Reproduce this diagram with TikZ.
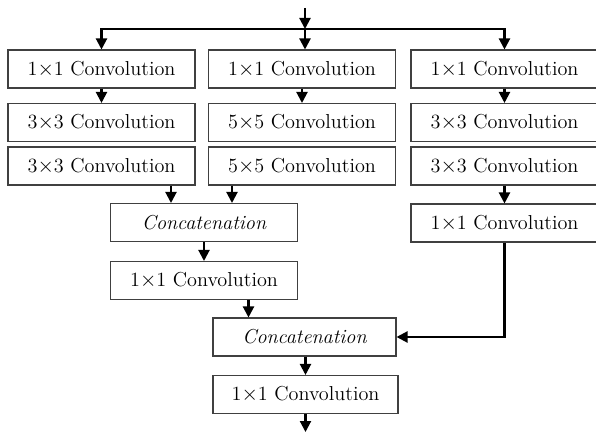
\documentclass[tikz,border=0pt]{standalone}
\usepackage{amsmath}
\usepackage{tikz}
\usetikzlibrary{arrows.meta,calc,positioning}

\begin{document}
\begin{tikzpicture}[
      x=0.02cm, y=-0.02cm,
      capa/.style={rectangle, draw=black!75, line width=0.6pt, align=center,
        minimum width=187*0.02cm, minimum height=38*0.02cm, inner sep=0pt,
        font=\fontsize{11.5}{13}\selectfont},
      union/.style={capa, font=\fontsize{11.5}{13}\selectfont\itshape},
      flecha/.style={-{Triangle[length=2.2mm,width=2.2mm]}, draw=black, line width=1.2pt},
      linea/.style={draw=black, line width=1.2pt},
    ]
    \useasboundingbox (0,0) rectangle (596,432);

    % tres ramas
    \node[capa] (a1) at (101.5,69)  {1$\times$1 Convolution};
    \node[capa] (a2) at (101.5,122.5) {3$\times$3 Convolution};
    \node[capa] (a3) at (101.5,166) {3$\times$3 Convolution};
    \node[capa] (b1) at (302,69)    {1$\times$1 Convolution};
    \node[capa] (b2) at (302,122.5) {5$\times$5 Convolution};
    \node[capa] (b3) at (302,166)   {5$\times$5 Convolution};
    \node[capa] (c1) at (504.5,69)  {1$\times$1 Convolution};
    \node[capa] (c2) at (504.5,122.5) {3$\times$3 Convolution};
    \node[capa] (c3) at (504.5,166) {3$\times$3 Convolution};
    \node[capa] (c4) at (504.5,223) {1$\times$1 Convolution};

    % uniones
    \node[union] (cat1)  at (204,222.5)   {Concatenation};
    \node[capa]  (conv1) at (204,280.5)   {1$\times$1 Convolution};
    \node[union, minimum width=183*0.02cm] (cat2)  at (304.5,337) {Concatenation};
    \node[capa,  minimum width=185*0.02cm] (conv2) at (305.5,394.5) {1$\times$1 Convolution};

    \coordinate (entrada) at (305,8);
    \coordinate (reparto) at (305,29);
    \coordinate (salida)  at (307,432);
    \coordinate (p1) at ($(cat1.north)+(-33,0)$);
    \coordinate (p2) at ($(cat1.north)+(28,0)$);
    \coordinate (p3) at ($(cat2.north)+(-56,0)$);

    \draw[flecha] (entrada) -- (reparto);
    \draw[flecha] (reparto) -- (reparto |- b1.north);
    \draw[flecha] (reparto) -| (a1.north);
    \draw[flecha] (reparto) -| (c1.north);

    \draw[flecha] (a1) -- (a2);
    \draw[flecha] (b1) -- (b2);
    \draw[flecha] (c1) -- (c2);
    \draw[flecha] (c3) -- (c4);

    \draw[flecha] (p1 |- a3.south) -- (p1);
    \draw[flecha] (p2 |- b3.south) -- (p2);
    \draw[flecha] (cat1) -- (conv1);
    \draw[flecha] (p3 |- conv1.south) -- (p3);
    \draw[flecha] (c4.south) |- (cat2.east);
    \draw[flecha] (cat2.south -| conv2.north) -- (conv2.north);
    \draw[flecha] (conv2.south) -- (conv2.south |- salida);

  \end{tikzpicture}
\end{document}
